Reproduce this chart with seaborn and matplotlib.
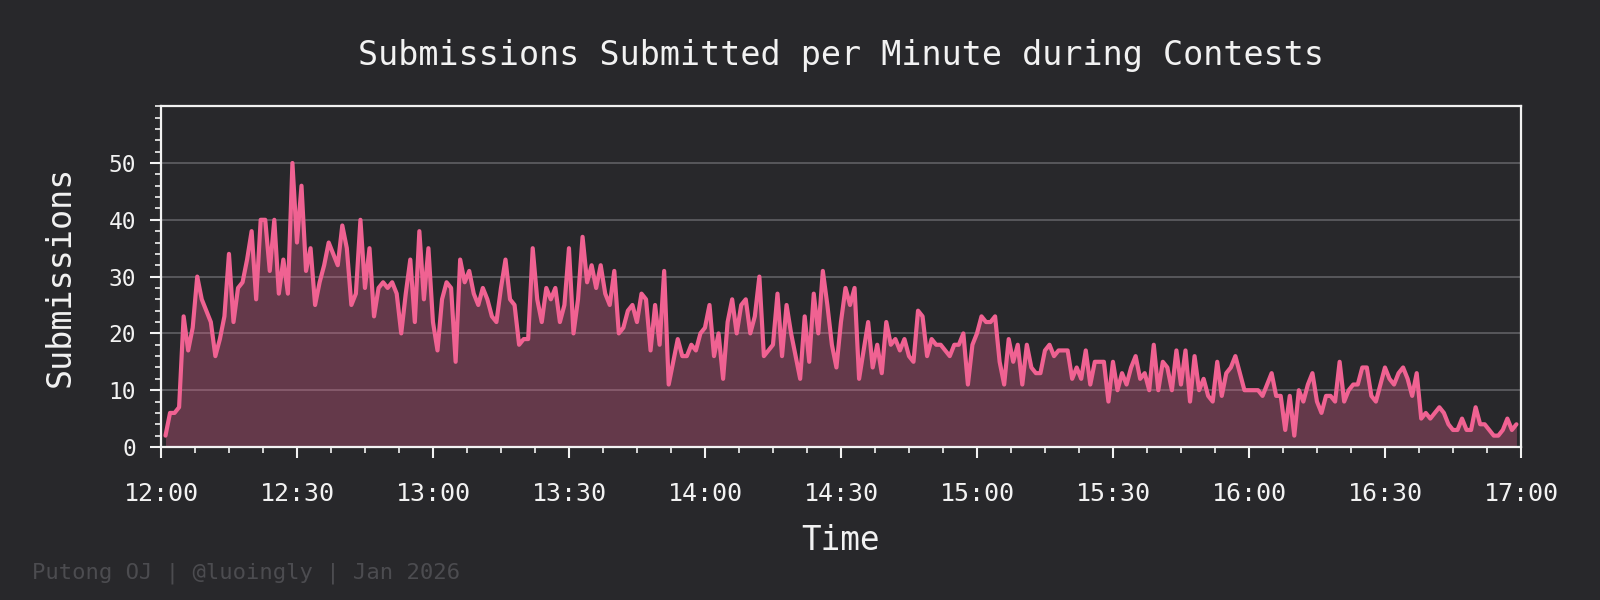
import numpy as np
import pandas as pd
import seaborn as sns
import matplotlib.pyplot as plt
from matplotlib.ticker import AutoMinorLocator

# submissions per minute, first value at 12:01
submissions = [
    2, 6, 6, 7, 23, 17, 21, 30, 26, 24,
    22, 16, 19, 23, 34, 22, 28, 29, 33, 38,
    26, 40, 40, 31, 40, 27, 33, 27, 50, 36,
    46, 31, 35, 25, 29, 32, 36, 34, 32, 39,
    35, 25, 27, 40, 28, 35, 23, 28, 29, 28,
    29, 27, 20, 27, 33, 22, 38, 26, 35, 22,
    17, 26, 29, 28, 15, 33, 29, 31, 27, 25,
    28, 26, 23, 22, 28, 33, 26, 25, 18, 19,
    19, 35, 26, 22, 28, 26, 28, 22, 25, 35,
    20, 26, 37, 29, 32, 28, 32, 27, 25, 31,
    20, 21, 24, 25, 22, 27, 26, 17, 25, 18,
    31, 11, 15, 19, 16, 16, 18, 17, 20, 21,
    25, 16, 20, 12, 22, 26, 20, 25, 26, 20,
    23, 30, 16, 17, 18, 27, 16, 25, 20, 16,
    12, 23, 15, 27, 20, 31, 25, 18, 14, 22,
    28, 25, 28, 12, 17, 22, 14, 18, 13, 22,
    18, 19, 17, 19, 16, 15, 24, 23, 16, 19,
    18, 18, 17, 16, 18, 18, 20, 11, 18, 20,
    23, 22, 22, 23, 15, 11, 19, 15, 18, 11,
    18, 14, 13, 13, 17, 18, 16, 17, 17, 17,
    12, 14, 12, 17, 11, 15, 15, 15, 8, 15,
    10, 13, 11, 14, 16, 12, 13, 10, 18, 10,
    15, 14, 10, 17, 11, 17, 8, 16, 10, 12,
    9, 8, 15, 9, 13, 14, 16, 13, 10, 10,
    10, 10, 9, 11, 13, 9, 9, 3, 9, 2,
    10, 8, 11, 13, 8, 6, 9, 9, 8, 15,
    8, 10, 11, 11, 14, 14, 9, 8, 11, 14,
    12, 11, 13, 14, 12, 9, 13, 5, 6, 5,
    6, 7, 6, 4, 3, 3, 5, 3, 3, 7,
    4, 4, 3, 2, 2, 3, 5, 3, 4,
]
tick_minutes = [0, 30, 60, 90, 120, 150, 180, 210, 240, 270, 300]
tick_labels = ["12:00", "12:30", "13:00", "13:30", "14:00", "14:30",
               "15:00", "15:30", "16:00", "16:30", "17:00"]
y_ticks = [0, 10, 20, 30, 40, 50]

df = pd.DataFrame({"minute": np.arange(1, len(submissions) + 1),
                   "count": submissions})

bg = "#28282b"
pink = "#f06292"
fg = "#f2f2f2"

sns.set_theme(style="dark", rc={
    "figure.facecolor": bg,
    "axes.facecolor": bg,
    "axes.edgecolor": fg,
    "axes.labelcolor": fg,
    "text.color": fg,
    "xtick.color": fg,
    "ytick.color": fg,
})
plt.rcParams["font.family"] = ["DejaVu Sans Mono", "DejaVu Sans"]

fig = plt.figure(figsize=(16, 6), dpi=100)
ax = fig.add_axes([0.1006, 0.255, 0.85, 0.568])

sns.lineplot(data=df, x="minute", y="count", ax=ax, color=pink, linewidth=3)
ax.fill_between(df["minute"], df["count"], color=pink, alpha=0.3, linewidth=0)

ax.set_xlim(0, 300)
ax.set_ylim(0, 60)
ax.set_xticks(tick_minutes)
ax.set_xticklabels(tick_labels)
ax.set_yticks(y_ticks)
ax.xaxis.set_minor_locator(AutoMinorLocator(4))
ax.yaxis.set_minor_locator(AutoMinorLocator(5))
ax.tick_params(axis="both", which="major", direction="out", length=8, width=1.5,
               bottom=True, left=True)
ax.tick_params(axis="both", which="minor", direction="out", length=4, width=1.2,
               bottom=True, left=True)
ax.tick_params(axis="x", labelsize=18, pad=17)
ax.tick_params(axis="y", labelsize=16.5, pad=10)

ax.grid(axis="y", color="#5c5c60", linewidth=1.3)
ax.grid(axis="x", visible=False)
for s in ax.spines.values():
    s.set_color(fg)
    s.set_linewidth(1.6)

ax.set_xlabel("Time", fontsize=23.5, labelpad=13)
ax.set_ylabel("Submissions", fontsize=24, labelpad=23)
ax.set_title("Submissions Submitted per Minute during Contests",
             fontsize=24, color=fg, pad=30)
fig.text(0.02, 0.045, "Putong OJ | @luoingly | Jan 2026",
         ha="left", va="center", fontsize=16, color="#4c4c50")

fig.savefig("out.png", dpi=100, facecolor=bg)
